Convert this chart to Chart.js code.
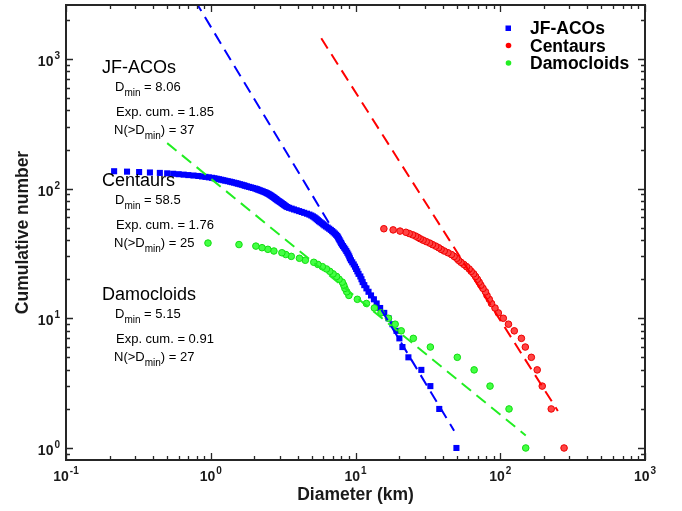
<!DOCTYPE html>
<html>
<head>
<meta charset="utf-8">
<script src="https://cdn.jsdelivr.net/npm/chart.js@4"></script>
<style>
  html, body { margin: 0; padding: 0; background: #fff; }
  #wrap { width: 682px; height: 511px; }
</style>
</head>
<body>
<div id="wrap"><canvas id="chart" width="682" height="511"></canvas></div>
<script>
// diameters (km), largest first: the i-th value has cumulative number i+1
const jfDiam = [
  49.8, 37.9, 32.9, 28.5, 23.2, 21.1, 20.1, 19.2, 18.0, 16.9,
  15.8, 14.8, 14.0, 13.4, 12.8, 12.3, 11.9, 11.5, 11.2, 11.0,
  10.8, 10.5, 10.3, 10.1, 9.92, 9.72, 9.50, 9.30, 9.15, 9.05,
  8.92, 8.78, 8.64, 8.50, 8.35, 8.20, 8.06, 7.96, 7.86, 7.76,
  7.67, 7.58, 7.48, 7.35, 7.20, 7.05, 6.90, 6.75, 6.58, 6.42,
  6.25, 6.10, 5.98, 5.85, 5.72, 5.60, 5.50, 5.40, 5.30, 5.20,
  5.08, 4.95, 4.80, 4.62, 4.42, 4.25, 4.08, 3.92, 3.76, 3.62,
  3.48, 3.38, 3.31, 3.25, 3.20, 3.15, 3.10, 3.05, 3.00, 2.95,
  2.90, 2.86, 2.82, 2.78, 2.74, 2.70, 2.66, 2.62, 2.58, 2.54,
  2.50, 2.45, 2.40, 2.35, 2.29, 2.24, 2.18, 2.13, 2.08, 2.03,
  1.96, 1.90, 1.84, 1.78, 1.73, 1.69, 1.64, 1.59, 1.54, 1.50,
  1.45, 1.40, 1.36, 1.31, 1.26, 1.22, 1.18, 1.14, 1.10, 1.06,
  1.02, 0.97, 0.92, 0.87, 0.82, 0.76, 0.70, 0.65, 0.60, 0.55,
  0.50, 0.445, 0.38, 0.32, 0.264, 0.215
];
const centDiam = [
  276, 225, 195, 180, 164, 149, 140, 125, 114, 105,
  97, 92, 87, 84, 81, 79, 76, 73.5, 71.5, 69.5,
  67.5, 65.5, 63, 61, 58.5, 56, 53.5, 51.5, 50, 48,
  46, 43.5, 41, 39, 37.5, 35.8, 34, 32.5, 30.8, 29.3,
  28, 27, 26, 24.8, 23.5, 22.3, 20.3, 18.2, 15.7
];
const damoDiam = [
  150, 115, 85, 66, 50.5, 32.9, 25.1, 20.7, 18.8, 16.9,
  15, 13.5, 11.9, 10.3, 9.0, 8.7, 8.45, 8.3, 8.1, 7.7,
  7.4, 7.0, 6.64, 6.3, 5.9, 5.5, 5.15, 4.5, 4.1, 3.6,
  3.3, 3.1, 2.73, 2.48, 2.26, 2.05, 1.567, 0.957
];

// fitted power laws, end points as drawn (D, N)
const jfFit = [[0.78, 2800], [48, 1.36]];
const centFit = [[5.8, 1440], [250, 1.93]];
const damoFit = [[0.5, 224], [150, 1.25]];

const groupNames = ['JF-ACOs', 'Centaurs', 'Damocloids'];
const dminVals = ['8.06', '58.5', '5.15'];
const expCumVals = ['1.85', '1.76', '0.91'];
const nAboveVals = ['37', '25', '27'];

const xDecades = [-1, 0, 1, 2, 3];
const yDecades = [0, 1, 2, 3];
const xRange = [0.1, 1000];
const yRange = [0.808, 2600];

const FONT = "'Liberation Sans', Arial, sans-serif";
const BLUE = '#0000ff';
const RED = '#ff0000';
const GREEN = '#22ee22';

function toPoints(diams) {
  return diams.map((d, i) => ({ x: d, y: i + 1 }));
}
function fitPoints(ends) {
  return ends.map((p) => ({ x: p[0], y: p[1] }));
}

function textWithSub(ctx, parts, x, y, size) {
  // parts: [text, isSub]
  let cx = x;
  parts.forEach(([t, sub]) => {
    ctx.font = (sub ? size - 3 : size) + 'px ' + FONT;
    ctx.fillText(t, cx, sub ? y + 5 : y);
    cx += ctx.measureText(t).width;
  });
}

function powLabel(ctx, exp, x, y, align) {
  ctx.font = 'bold 14px ' + FONT;
  const wb = ctx.measureText('10').width;
  ctx.font = 'bold 10px ' + FONT;
  const we = ctx.measureText(exp).width;
  const left = align === 'right' ? x - wb - we - 1 : x - (wb + we + 1) / 2;
  ctx.font = 'bold 14px ' + FONT;
  ctx.fillText('10', left, y);
  ctx.font = 'bold 10px ' + FONT;
  ctx.fillText(exp, left + wb + 1, y - 7);
}

const decor = {
  id: 'decor',
  afterDatasetsDraw(chart) {
    const { ctx, chartArea: a, scales: { x, y } } = chart;
    ctx.save();
    ctx.strokeStyle = '#262626';
    ctx.lineWidth = 1.3;
    ctx.beginPath();
    for (let d = -1; d <= 3; d++) {
      for (let m = 1; m <= 9; m++) {
        const v = m * Math.pow(10, d);
        const len = m === 1 ? 7 : 4;
        if (v >= xRange[0] && v <= xRange[1]) {
          const px = Math.round(x.getPixelForValue(v)) + 0.5;
          ctx.moveTo(px, a.bottom); ctx.lineTo(px, a.bottom - len);
          ctx.moveTo(px, a.top); ctx.lineTo(px, a.top + len);
        }
        if (v >= yRange[0] && v <= yRange[1]) {
          const py = Math.round(y.getPixelForValue(v)) + 0.5;
          ctx.moveTo(a.left, py); ctx.lineTo(a.left + len, py);
          ctx.moveTo(a.right, py); ctx.lineTo(a.right - len, py);
        }
      }
    }
    ctx.stroke();
    ctx.lineWidth = 2;
    ctx.strokeRect(a.left, a.top, a.right - a.left, a.bottom - a.top);

    ctx.fillStyle = '#1a1a1a';
    ctx.textBaseline = 'alphabetic';
    ctx.textAlign = 'left';
    xDecades.forEach((d) => powLabel(ctx, String(d), x.getPixelForValue(Math.pow(10, d)), 481, 'center'));
    yDecades.forEach((d) => powLabel(ctx, String(d), a.left - 6, y.getPixelForValue(Math.pow(10, d)) + 7, 'right'));

    // axis titles
    ctx.font = 'bold 17.5px ' + FONT;
    ctx.textAlign = 'center';
    ctx.fillText('Diameter (km)', (a.left + a.right) / 2, 500);
    ctx.save();
    ctx.translate(28, (a.top + a.bottom) / 2);
    ctx.rotate(-Math.PI / 2);
    ctx.fillText('Cumulative number', 0, 0);
    ctx.restore();

    // fit annotations
    ctx.textAlign = 'left';
    ctx.fillStyle = '#000';
    const tops = [73, 186, 300];
    groupNames.forEach((name, i) => {
      const t = tops[i];
      ctx.font = '18px ' + FONT;
      ctx.fillText(name, 102, t);
      textWithSub(ctx, [['D', false], ['min', true], [' = ' + dminVals[i], false]], 115, t + 18, 13);
      textWithSub(ctx, [['Exp. cum. = ' + expCumVals[i], false]], 116, t + 43, 13);
      textWithSub(ctx, [['N(>D', false], ['min', true], [') = ' + nAboveVals[i], false]], 114, t + 61, 13);
    });

    // legend
    const colors = [BLUE, RED, GREEN];
    ctx.font = 'bold 17.5px ' + FONT;
    groupNames.forEach((name, i) => {
      const ly = 28 + i * 17.5;
      ctx.fillStyle = colors[i];
      if (i === 0) {
        ctx.fillRect(505.5, ly - 2.5, 5.5, 5.5);
      } else {
        ctx.beginPath();
        ctx.arc(508.5, ly, 2.8, 0, Math.PI * 2);
        ctx.fill();
      }
      ctx.fillStyle = '#000';
      ctx.fillText(name, 530, ly + 6);
    });
    ctx.restore();
  }
};

const scatterBase = { showLine: false, borderWidth: 1 };
const fitBase = { showLine: true, pointRadius: 0, borderWidth: 2, borderDash: [12, 7], fill: false, clip: 0, order: 0 };

new Chart(document.getElementById('chart'), {
  type: 'scatter',
  data: {
    datasets: [
      { ...fitBase, label: 'JF fit', data: fitPoints(jfFit), borderColor: BLUE },
      { ...fitBase, label: 'Cent fit', data: fitPoints(centFit), borderColor: RED },
      { ...fitBase, label: 'Damo fit', data: fitPoints(damoFit), borderColor: GREEN },
      { ...scatterBase, label: groupNames[2], data: toPoints(damoDiam), pointStyle: 'circle', pointRadius: 3.3,
        backgroundColor: '#44ff44', borderColor: '#11dd11', order: 1 },
      { ...scatterBase, label: groupNames[1], data: toPoints(centDiam), pointStyle: 'circle', pointRadius: 3.3,
        backgroundColor: '#ff4444', borderColor: '#ee0000', order: 2 },
      { ...scatterBase, label: groupNames[0], data: toPoints(jfDiam), pointStyle: 'rect', pointRadius: 4.3,
        backgroundColor: BLUE, borderColor: BLUE, borderWidth: 0, order: 3 },
    ],
  },
  options: {
    responsive: false,
    animation: false,
    events: [],
    layout: { padding: { left: 66, right: 37, top: 4, bottom: 51 } },
    plugins: { legend: { display: false }, tooltip: { enabled: false } },
    scales: {
      x: { type: 'logarithmic', min: xRange[0], max: xRange[1], display: false },
      y: { type: 'logarithmic', min: yRange[0], max: yRange[1], display: false },
    },
  },
  plugins: [decor],
});
</script>
</body>
</html>
